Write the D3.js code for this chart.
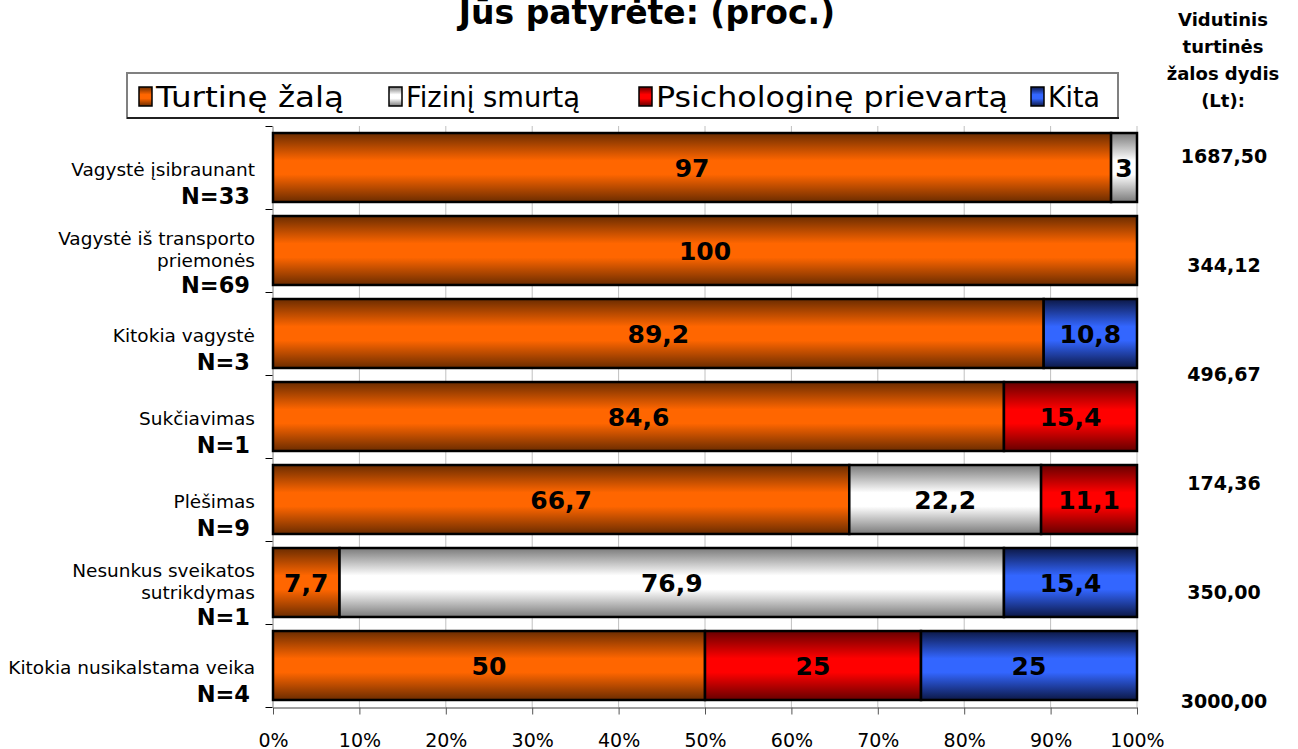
<!DOCTYPE html>
<html>
<head>
<meta charset="utf-8">
<script src="https://cdn.jsdelivr.net/npm/d3@7"></script>
<style>
  html, body { margin: 0; padding: 0; background: #fff; }
  svg { display: block; font-family: Verdana, "DejaVu Sans", sans-serif; }
</style>
</head>
<body>
<svg id="chart" width="1298" height="749"></svg>
<script>
// ---------- DATA ----------
const categories = [
  ["Vagystė įsibraunant"],
  ["Vagystė iš transporto", "priemonės"],
  ["Kitokia vagystė"],
  ["Sukčiavimas"],
  ["Plėšimas"],
  ["Nesunkus sveikatos", "sutrikdymas"],
  ["Kitokia nusikalstama veika"]
];
const sampleSizes = ["N=33", "N=69", "N=3", "N=1", "N=9", "N=1", "N=4"];
const seriesNames = ["Turtinę žalą", "Fizinį smurtą", "Psichologinę prievartą", "Kita"];
const turtine   = [97, 100, 89.2, 84.6, 66.7, 7.7, 50];
const fizini    = [3, 0, 0, 0, 22.2, 76.9, 0];
const psich     = [0, 0, 0, 15.4, 11.1, 0, 25];
const kita      = [0, 0, 10.8, 0, 0, 15.4, 25];
const avgHeader = ["Vidutinis", "turtinės", "žalos dydis", "(Lt):"];
const avgDamage = ["1687,50", "344,12", "496,67", "174,36", "350,00", "3000,00"];
const xTicks    = [0, 10, 20, 30, 40, 50, 60, 70, 80, 90, 100];
const titleText = "Jūs patyrėte: (proc.)";

// ---------- SETUP ----------
const svg = d3.select("#chart");
const keys = ["t", "f", "p", "k"];
const table = categories.map((c, i) => ({ idx: i, t: turtine[i], f: fizini[i], p: psich[i], k: kita[i] }));
const colors = {
  t: { dark: "#6b2c00", bright: "#ff6600" },
  f: { dark: "#7a7a7a", bright: "#ffffff" },
  p: { dark: "#660000", bright: "#ff0000" },
  k: { dark: "#0c1846", bright: "#3366ff" }
};

const defs = svg.append("defs");
keys.forEach(k => {
  const g = defs.append("linearGradient").attr("id", "grad-" + k)
    .attr("x1", 0).attr("y1", 0).attr("x2", 0).attr("y2", 1);
  g.append("stop").attr("offset", "0%").attr("stop-color", colors[k].dark);
  g.append("stop").attr("offset", "40%").attr("stop-color", colors[k].bright);
  g.append("stop").attr("offset", "60%").attr("stop-color", colors[k].bright);
  g.append("stop").attr("offset", "100%").attr("stop-color", colors[k].dark);
});

const x = d3.scaleLinear().domain([0, 100]).range([273, 1137]);
const y = d3.scaleBand().domain(d3.range(categories.length)).range([126, 707])
  .paddingInner(0.169).paddingOuter(0.0845);
const yEdge = d3.scaleLinear().domain([0, categories.length]).range([126, 707]);

// ---------- TITLE ----------
svg.append("text").attr("x", 647).attr("y", 24).attr("text-anchor", "middle")
  .attr("font-size", 33).attr("font-weight", "bold").text(titleText);

// ---------- GRIDLINES ----------
svg.append("g").selectAll("line").data(xTicks.filter(d => d > 0)).join("line")
  .attr("x1", d => x(d)).attr("x2", d => x(d))
  .attr("y1", 126).attr("y2", 707)
  .attr("stroke", "#c0c0c0").attr("stroke-width", 1);

// ---------- AXES ----------
const xAxis = svg.append("g").attr("transform", "translate(0,707.5)")
  .call(d3.axisBottom(x).tickValues(xTicks).tickFormat(d => d + "%").tickSize(7).tickSizeOuter(0));
xAxis.select(".domain").attr("stroke", "#808080").attr("stroke-width", 1.5);
xAxis.selectAll(".tick line").attr("stroke", "#555");
xAxis.selectAll(".tick text").attr("font-size", 19).attr("font-family", "Verdana, 'DejaVu Sans', sans-serif")
  .attr("fill", "#000").attr("dy", 0).attr("y", 39);

const yAxis = svg.append("g").attr("transform", "translate(272.5,0)")
  .call(d3.axisLeft(yEdge).tickValues(d3.range(categories.length + 1)).tickFormat("").tickSize(7).tickSizeOuter(0));
yAxis.select(".domain").attr("stroke", "#808080");
yAxis.selectAll(".tick line").attr("stroke", "#000");

// ---------- BARS ----------
const stacked = d3.stack().keys(keys)(table);
const segs = [];
stacked.forEach(layer => {
  layer.forEach(d => {
    const v = d.data[layer.key];
    if (v > 0) segs.push({ key: layer.key, idx: d.data.idx, x0: d[0], x1: d[1], v });
  });
});

svg.append("g").selectAll("rect").data(segs).join("rect")
  .attr("x", d => x(d.x0)).attr("width", d => x(d.x1) - x(d.x0))
  .attr("y", d => y(d.idx)).attr("height", y.bandwidth())
  .attr("fill", d => "url(#grad-" + d.key + ")")
  .attr("stroke", "#000").attr("stroke-width", 2.5);

const fmt = v => String(v).replace(".", ",");
svg.append("g").selectAll("text").data(segs).join("text")
  .attr("x", d => (x(d.x0) + x(d.x1)) / 2)
  .attr("y", d => y(d.idx) + y.bandwidth() / 2 + 9)
  .attr("text-anchor", "middle").attr("font-size", 25).attr("font-weight", "bold")
  .text(d => fmt(d.v));

// ---------- CATEGORY LABELS ----------
const lab = svg.append("g");
categories.forEach((lines, i) => {
  const c = y(i) + y.bandwidth() / 2;
  let ys;
  if (lines.length === 1) ys = [c + 8, c + 36];
  else ys = [c - 6, c + 16, c + 42];
  lines.forEach((l, j) => {
    lab.append("text").attr("x", 255).attr("y", ys[j]).attr("text-anchor", "end")
      .attr("font-size", 18.5).text(l);
  });
  lab.append("text").attr("x", 250).attr("y", ys[ys.length - 1]).attr("text-anchor", "end")
    .attr("font-size", 22.5).attr("font-weight", "bold").text(sampleSizes[i]);
});

// ---------- LEGEND ----------
const leg = svg.append("g");
leg.append("rect").attr("x", 127).attr("y", 73).attr("width", 991).attr("height", 45)
  .attr("fill", "#fff").attr("stroke", "#808080").attr("stroke-width", 2);
leg.append("line").attr("x1", 127).attr("x2", 1119).attr("y1", 118).attr("y2", 118)
  .attr("stroke", "#000").attr("stroke-width", 1.5);
const legX = [139, 389, 639, 1031];
const legLen = [188, 174, 352, 52];
seriesNames.forEach((name, i) => {
  const k = keys[i];
  leg.append("rect").attr("x", legX[i]).attr("y", 87).attr("width", 13).attr("height", 19)
    .attr("fill", "url(#grad-" + k + ")").attr("stroke", "#000").attr("stroke-width", 1.5);
  leg.append("text").attr("x", legX[i] + 17).attr("y", 107).attr("font-size", 28)
    .attr("textLength", legLen[i]).attr("lengthAdjust", "spacingAndGlyphs").text(name);
});

// ---------- RIGHT COLUMN ----------
const rc = svg.append("g").attr("font-weight", "bold").attr("text-anchor", "middle");
const hY = d3.scalePoint().domain(d3.range(avgHeader.length)).range([26, 107]);
avgHeader.forEach((h, i) => {
  rc.append("text").attr("x", 1223).attr("y", hY(i)).attr("font-size", 18).text(h);
});
const vY = d3.scalePoint().domain(d3.range(avgDamage.length)).range([163, 708]);
avgDamage.forEach((v, i) => {
  rc.append("text").attr("x", 1224).attr("y", vY(i)).attr("font-size", 19).text(v);
});
</script>
</body>
</html>
